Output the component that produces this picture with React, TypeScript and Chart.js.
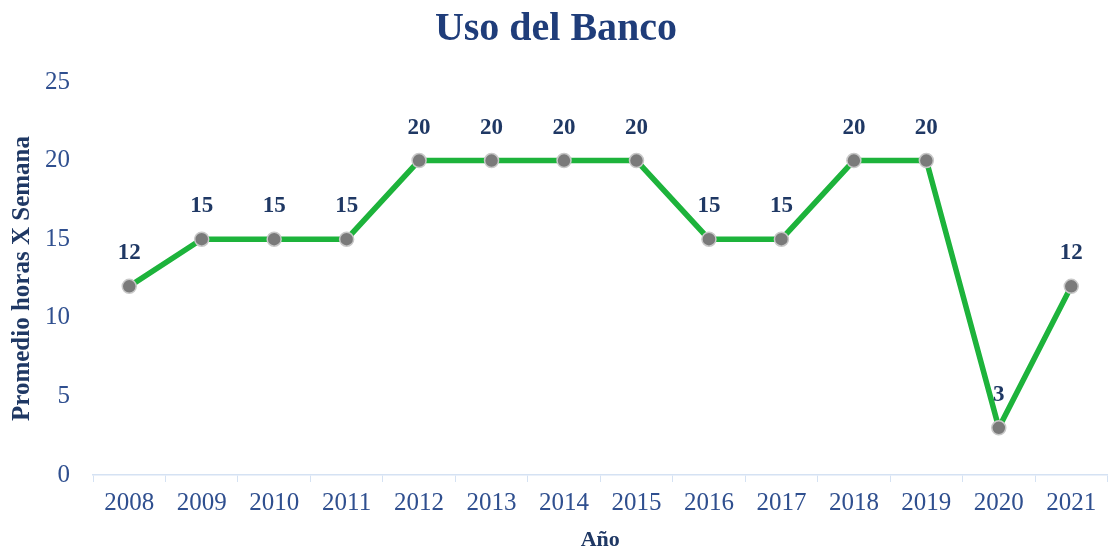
import React, { useEffect, useRef } from "react";
import { Chart, registerables } from "chart.js";

Chart.register(...registerables);

const years = ["2008", "2009", "2010", "2011", "2012", "2013", "2014", "2015", "2016", "2017", "2018", "2019", "2020", "2021"];
const hours = [12, 15, 15, 15, 20, 20, 20, 20, 15, 15, 20, 20, 3, 12];
const yTicks = [0, 5, 10, 15, 20, 25];

const SERIF = "'Liberation Serif', 'DejaVu Serif', serif";

const labelPlugin = {
  id: "pointLabels",
  afterDatasetsDraw(chart: any) {
    const ctx = chart.ctx;
    const meta = chart.getDatasetMeta(0);
    ctx.save();
    ctx.font = `bold 23px ${SERIF}`;
    ctx.fillStyle = "#1f3864";
    ctx.textAlign = "center";
    ctx.textBaseline = "middle";
    meta.data.forEach((pt: any, i: number) => {
      ctx.fillText(String(hours[i]), pt.x, pt.y - 33);
    });
    ctx.restore();
  },
};

export default function App() {
  const ref = useRef<HTMLCanvasElement | null>(null);
  useEffect(() => {
    document.body.style.margin = "0";
    const chart = new Chart(ref.current!, {
      type: "line",
      data: {
        labels: years,
        datasets: [
          {
            data: hours,
            borderColor: "#1db33b",
            borderWidth: 5.5,
            pointRadius: 7,
            pointBackgroundColor: "#7a7a7a",
            pointBorderColor: "#c8c8c8",
            pointBorderWidth: 1.5,
            tension: 0,
          },
        ],
      },
      options: {
        animation: false,
        responsive: false,
        maintainAspectRatio: false,
        layout: { padding: { left: 0, right: 4, top: 0, bottom: 0 } },
        plugins: {
          legend: { display: false },
          tooltip: { enabled: false },
          title: {
            display: true,
            text: "Uso del Banco",
            color: "#1f3d7a",
            font: { family: SERIF, size: 40, weight: "bold" },
            padding: { top: 6, bottom: 28 },
          },
        },
        scales: {
          x: {
            offset: true,
            grid: {
              display: true,
              drawOnChartArea: false,
              drawTicks: true,
              tickLength: 7,
              color: "#d5e2f3",
              offset: true,
            },
            border: { display: true, color: "#d5e2f3", width: 1.5 },
            ticks: {
              color: "#2f4f8f",
              font: { family: SERIF, size: 25 },
              padding: 6,
              maxRotation: 0,
            },
            title: {
              display: true,
              text: "Año",
              color: "#1f3864",
              font: { family: SERIF, size: 22, weight: "bold" },
              padding: { top: 4, bottom: 0 },
            },
            afterFit(s: any) {
              s.height = 79;
            },
          },
          y: {
            min: 0,
            max: 25,
            afterBuildTicks(s: any) {
              s.ticks = yTicks.map((v) => ({ value: v }));
            },
            grid: { display: false },
            border: { display: false },
            ticks: {
              color: "#2f4f8f",
              font: { family: SERIF, size: 25 },
              padding: 15,
            },
            title: {
              display: true,
              text: "Promedio horas X Semana",
              color: "#1f3864",
              font: { family: SERIF, size: 25, weight: "bold" },
              padding: { top: 8, bottom: 0 },
            },
            afterFit(s: any) {
              s.width = 93;
            },
          },
        },
      },
      plugins: [labelPlugin],
    });
    return () => chart.destroy();
  }, []);
  return (
    <div style={{ width: 1116, height: 554, background: "#fff" }}>
      <canvas ref={ref} width={1116} height={554} style={{ display: "block" }} />
    </div>
  );
}
